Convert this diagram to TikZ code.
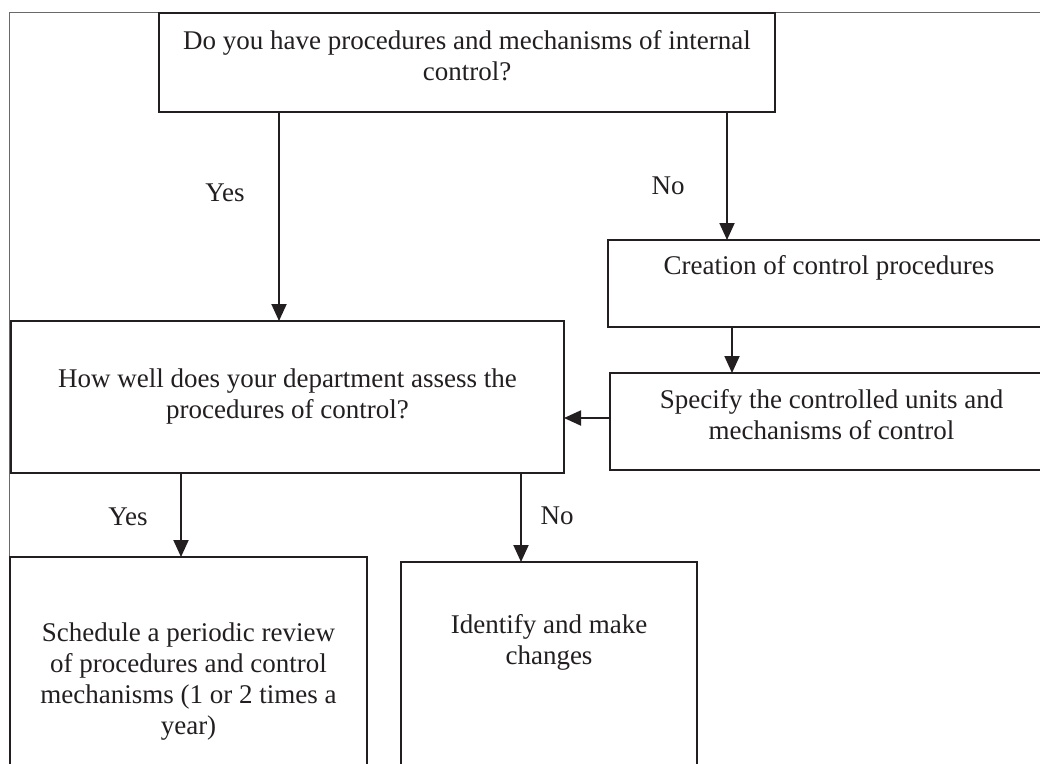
\documentclass[tikz,border=0pt]{standalone}
\usepackage{fontspec}
\setmainfont{Liberation Serif}
\usetikzlibrary{arrows.meta}
\definecolor{ink}{HTML}{231F20}
\definecolor{framegray}{HTML}{6A6A6A}
\begin{document}
\begin{tikzpicture}[x=1pt,y=-1pt,
  box/.style={draw=ink,line width=1.6pt,inner sep=0pt,outer sep=0pt},
  txt/.style={font=\fontsize{27}{31}\selectfont,text=ink,align=center,inner sep=0pt},
  arr/.style={draw=ink,line width=1.9pt,-{Triangle[length=17pt,width=15pt]}},
  outer/.style={draw=framegray,line width=0.9pt}]
\useasboundingbox (0,0) rectangle (1040,763);
\clip (0,0) rectangle (1040,763);
\fill[white] (0,0) rectangle (1040,763);
% outer frame (left and top)
\draw[outer] (9,800) -- (9,12) -- (1060,12);
% boxes
\node[box,fill=white,minimum width=616pt,minimum height=99pt] (top) at (467,62.5) {};
\node[box,minimum width=444pt,minimum height=87pt] (create) at (830,283.5) {};
\node[box,minimum width=444pt,minimum height=97pt] (spec) at (832,421.5) {};
\node[box,minimum width=553pt,minimum height=152pt] (how) at (287.5,397) {};
\node[box,minimum width=357pt,minimum height=240pt] (sched) at (188.5,677) {};
\node[box,minimum width=296pt,minimum height=235pt] (ident) at (549,679.5) {};
% texts
\node[txt] (toptxt) at (467,56) {Do you have procedures and mechanisms of internal\\control?};
\node[txt] (createtxt) at (829,268) {Creation of control procedures};
\node[txt] (spectxt) at (831.5,414.5) {Specify the controlled units and\\mechanisms of control};
\node[txt] (howtxt) at (287.5,396.5) {How well does your department assess the\\procedures of control?};
\node[txt] (schedtxt) at (188.5,682) {Schedule a periodic review\\of procedures and control\\mechanisms (1 or 2 times a\\year)};
\node[txt] (identtxt) at (549,642.5) {Identify and make\\changes};
% connector x/y positions
\coordinate (xa) at (279,0);
\coordinate (xb) at (727,0);
\coordinate (xc) at (732,0);
\coordinate (yd) at (0,418);
\coordinate (xe) at (181,0);
\coordinate (xf) at (521,0);
% connectors
\draw[arr] (top.south -| xa) -- (how.north -| xa);
\draw[arr] (top.south -| xb) -- (create.north -| xb);
\draw[arr] (create.south -| xc) -- (spec.north -| xc);
\draw[arr] (spec.west |- yd) -- (how.east |- yd);
\draw[arr] (how.south -| xe) -- (sched.north -| xe);
\draw[arr] (how.south -| xf) -- (ident.north -| xf);
% labels
\node[txt] (lyes1) at (225,193) {Yes};
\node[txt] (lno1) at (668,186) {No};
\node[txt] (lyes2) at (128,517) {Yes};
\node[txt] (lno2) at (557,516) {No};
\end{tikzpicture}
\end{document}
